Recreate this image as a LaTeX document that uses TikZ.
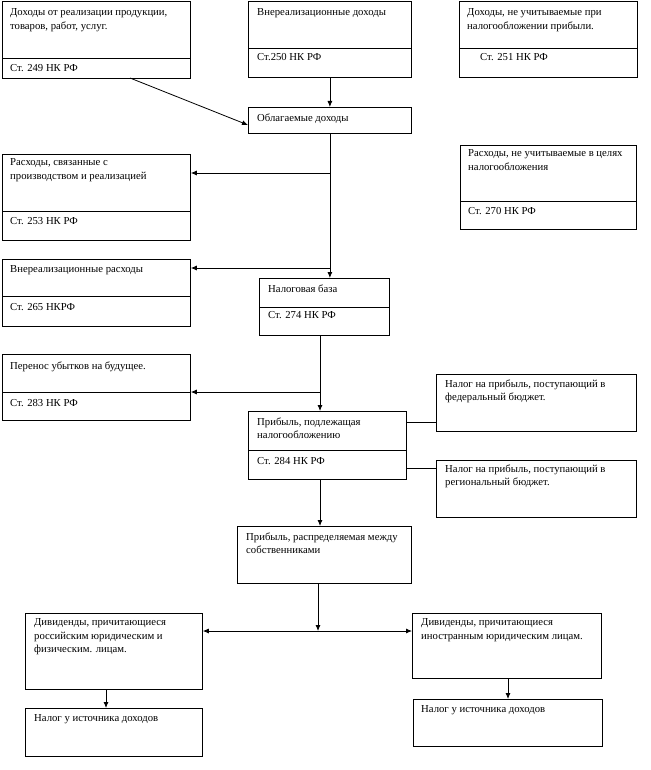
\documentclass[tikz,border=0pt]{standalone}
\usepackage{fontspec}
\setmainfont{Liberation Serif}
\usetikzlibrary{arrows.meta,calc}
\begin{document}
\begin{tikzpicture}[x=1pt,y=-1pt,
  box/.style={draw,line width=0.8pt,rectangle,anchor=north west,inner sep=0pt},
  txt/.style={anchor=north west,inner sep=0pt,align=left,font=\fontsize{10.7}{13.3}\selectfont},
  arr/.style={line width=0.8pt,-{Latex[length=6pt,width=5pt]}},
  arrb/.style={line width=0.8pt,{Latex[length=6pt,width=5pt]}-{Latex[length=6pt,width=5pt]}},
  ln/.style={line width=0.8pt}]
\useasboundingbox (0,0) rectangle (650,770);
% boxes
\node[box,minimum width=188pt,minimum height=77pt] (b1) at (2,1) {};
\node[box,minimum width=163pt,minimum height=76pt] (b2) at (248,1) {};
\node[box,minimum width=178pt,minimum height=76pt] (b3) at (459,1) {};
\node[box,minimum width=163pt,minimum height=26pt] (b4) at (248,107) {};
\node[box,minimum width=188pt,minimum height=86pt] (b5) at (2,154) {};
\node[box,minimum width=176pt,minimum height=84pt] (b8) at (460,145) {};
\node[box,minimum width=188pt,minimum height=67pt] (b7) at (2,259) {};
\node[box,minimum width=130pt,minimum height=57pt] (b6) at (259,278) {};
\node[box,minimum width=188pt,minimum height=66pt] (b9) at (2,354) {};
\node[box,minimum width=200pt,minimum height=57pt] (b11) at (436,374) {};
\node[box,minimum width=158pt,minimum height=68pt] (b10) at (248,411) {};
\node[box,minimum width=200pt,minimum height=57pt] (b12) at (436,460) {};
\node[box,minimum width=174pt,minimum height=57pt] (b13) at (237,526) {};
\node[box,minimum width=177pt,minimum height=76pt] (b14) at (25,613) {};
\node[box,minimum width=189pt,minimum height=65pt] (b15) at (412,613) {};
\node[box,minimum width=177pt,minimum height=48pt] (b16) at (25,708) {};
\node[box,minimum width=189pt,minimum height=47pt] (b17) at (413,699) {};
% dividers
\draw[ln] (b1.west |- 0,58) -- (b1.east |- 0,58);
\draw[ln] (b2.west |- 0,48) -- (b2.east |- 0,48);
\draw[ln] (b3.west |- 0,48) -- (b3.east |- 0,48);
\draw[ln] (b5.west |- 0,211) -- (b5.east |- 0,211);
\draw[ln] (b8.west |- 0,201) -- (b8.east |- 0,201);
\draw[ln] (b7.west |- 0,296) -- (b7.east |- 0,296);
\draw[ln] (b6.west |- 0,307) -- (b6.east |- 0,307);
\draw[ln] (b9.west |- 0,392) -- (b9.east |- 0,392);
\draw[ln] (b10.west |- 0,450) -- (b10.east |- 0,450);
% texts
\node[txt] (t1) at (10,8.5) {Доходы от реализации продукции,\\товаров, работ, услуг.};
\node[txt] (t1b) at (10,64.5) {Ст. 249 НК РФ};
\node[txt] (t2) at (257,8.5) {Внереализационные доходы};
\node[txt] (t2b) at (257,53.5) {Ст.250 НК РФ};
\node[txt] (t3) at (467,8.5) {Доходы, не учитываемые при\\налогообложении прибыли.};
\node[txt] (t3b) at (480,53.5) {Ст. 251 НК РФ};
\node[txt] (t4) at (257,113.5) {Облагаемые доходы};
\node[txt] (t5) at (10,158.5) {Расходы, связанные с\\производством и реализацией};
\node[txt] (t5b) at (10,217.5) {Ст. 253 НК РФ};
\node[txt] (t8) at (468,149.5) {Расходы, не учитываемые в целях\\налогообложения};
\node[txt] (t8b) at (468,207.5) {Ст. 270 НК РФ};
\node[txt] (t7) at (10,265.5) {Внереализационные расходы};
\node[txt] (t7b) at (10,303.5) {Ст. 265 НКРФ};
\node[txt] (t6) at (268,284.5) {Налоговая база};
\node[txt] (t6b) at (268,311.5) {Ст. 274 НК РФ};
\node[txt] (t9) at (10,361.5) {Перенос убытков на будущее.};
\node[txt] (t9b) at (10,399.5) {Ст. 283 НК РФ};
\node[txt] (t11) at (445,379.5) {Налог на прибыль, поступающий в\\федеральный бюджет.};
\node[txt] (t10) at (257,417.5) {Прибыль, подлежащая\\налогообложению};
\node[txt] (t10b) at (257,457.5) {Ст. 284 НК РФ};
\node[txt] (t12) at (445,464.5) {Налог на прибыль, поступающий в\\региональный бюджет.};
\node[txt] (t13) at (246,532.5) {Прибыль, распределяемая между\\собственниками};
\node[txt] (t14) at (34,618.5) {Дивиденды, причитающиеся\\российским юридическим и\\физическим. лицам.};
\node[txt] (t15) at (421,618.5) {Дивиденды, причитающиеся\\иностранным юридическим лицам.};
\node[txt] (t16) at (34,714.5) {Налог у источника доходов};
\node[txt] (t17) at (421,705.5) {Налог у источника доходов};
% connectors
\coordinate (c1) at (130,78);
\coordinate (c4) at (248,125);
\draw[arr] (c1) -- (c4);
\draw[arr] (b2.south) -- (b4.north);
\coordinate (j1) at (330,173);
\coordinate (j2) at (330,268);
\draw[arr] (b4.south) -- (b4.south |- b6.north);
\draw[arr] (j1) -- (b5.east |- j1);
\draw[arr] (j2) -- (b7.east |- j2);
\coordinate (s6) at (320,335);
\coordinate (j3) at (320,392);
\draw[arr] (s6) -- (s6 |- b10.north);
\draw[arr] (j3) -- (b9.east |- j3);
\coordinate (r1) at (0,422);
\coordinate (r2) at (0,468);
\draw[ln] (b10.east |- r1) -- (b11.west |- r1);
\draw[ln] (b10.east |- r2) -- (b12.west |- r2);
\coordinate (s10) at (320,479);
\draw[arr] (s10) -- (s10 |- b13.north);
\coordinate (s13) at (318,583);
\coordinate (j4) at (318,631);
\draw[arr] (s13) -- (j4);
\draw[arrb] (b14.east |- j4) -- (b15.west |- j4);
\coordinate (s14) at (106,689);
\draw[arr] (s14) -- (s14 |- b16.north);
\coordinate (s15) at (508,678);
\draw[arr] (s15) -- (s15 |- b17.north);
\end{tikzpicture}
\end{document}
